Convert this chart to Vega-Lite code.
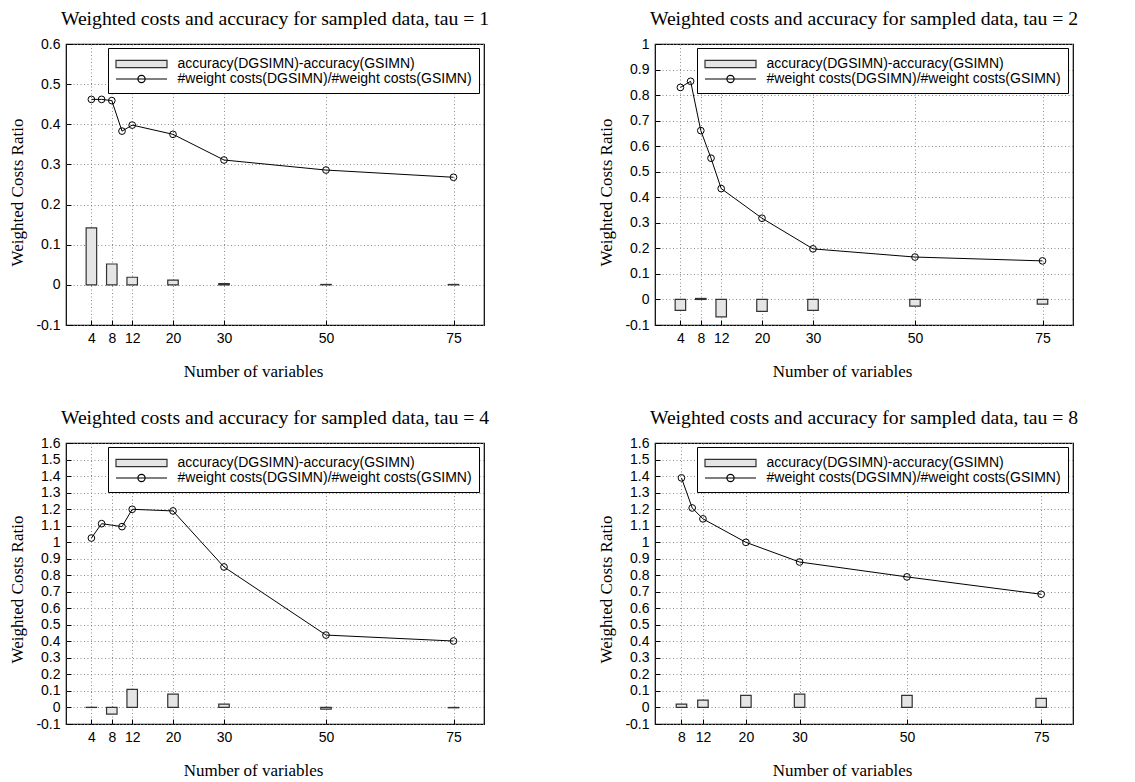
{
  "$schema": "https://vega.github.io/schema/vega-lite/v6.json",
  "background": "white",
  "padding": {"left": 8, "top": 8, "right": 5, "bottom": 5},
  "columns": 2,
  "spacing": {"column": 171, "row": 118},
  "bounds": "flush",
  "resolve": {"scale": {"color": "independent"}, "legend": {"color": "independent"}},
  "config": {
    "view": {"stroke": "black", "strokeWidth": 1.2},
    "title": {"font": "Liberation Serif", "fontSize": 19.7, "fontWeight": "normal", "color": "black", "offset": 8},
    "axis": {
      "labelFont": "Liberation Sans", "labelFontSize": 14, "labelColor": "black",
      "titleFont": "Liberation Serif", "titleFontSize": 17, "titleFontWeight": "normal", "titleColor": "black",
      "tickColor": "black", "tickSize": -5, "tickWidth": 1, "labelPadding": 11,
      "domain": false, "grid": true, "gridColor": "#808080", "gridDash": [1, 2.5], "gridWidth": 0.9
    },
    "axisX": {"titlePadding": 18},
    "axisY": {"titlePadding": 9},
    "legend": {
      "orient": "none", "legendX": 42, "fillColor": "white", "strokeColor": "black",
      "padding": 7, "symbolSize": 196, "symbolOffset": 18.5, "symbolStrokeWidth": 1.2, "labelFont": "Liberation Sans", "labelFontSize": 14,
      "labelColor": "black", "labelOffset": 28, "labelLimit": 500
    }
  },
  "concat": [
    {
      "title": "Weighted costs and accuracy for sampled data, tau = 1",
      "width": 418, "height": 281,
      "resolve": {"axis": {"x": "independent", "y": "independent"}, "scale": {"color": "independent"}, "legend": {"color": "independent"}},
      "layer": [
        {
          "data": {"values": [
            {"n": 4, "diff": 0.142}, {"n": 8, "diff": 0.052}, {"n": 12, "diff": 0.019}, {"n": 20, "diff": 0.012},
            {"n": 30, "diff": 0.003}, {"n": 50, "diff": 0.001}, {"n": 75, "diff": 0.001}
          ]},
          "mark": {"type": "bar", "size": 10.5, "stroke": "#333333", "strokeWidth": 1.2},
          "encoding": {
            "x": {"field": "n", "type": "quantitative", "scale": {"domain": [0, 80], "nice": false, "zero": false},
                  "axis": {"values": [4, 8, 12, 20, 30, 50, 75], "title": "Number of variables", "titleX": 187}},
            "y": {"field": "diff", "type": "quantitative", "scale": {"domain": [-0.1, 0.6], "nice": false},
                  "axis": {"values": [-0.1, 0, 0.1, 0.2, 0.3, 0.4, 0.5, 0.6], "title": "Weighted Costs Ratio", "titleY": 148,
                           "labelExpr": "datum.value < 0 ? '-' + format(-datum.value, '.1~f') : format(datum.value, '.1~f')"}},
            "color": {"datum": "accuracy(DGSIMN)-accuracy(GSIMN)", "type": "nominal",
                      "scale": {"domain": ["accuracy(DGSIMN)-accuracy(GSIMN)"], "range": ["#e5e5e5"]},
                      "legend": {"title": null, "legendY": 5, "fillColor": "transparent", "strokeColor": "transparent", "zindex": 2,
                                 "symbolType": "M-3.643,-0.521H3.643V0.521H-3.643Z", "symbolStrokeColor": "#333333"}}
          }
        },
        {
          "data": {"values": [
            {"n": 4, "ratio": 0.462}, {"n": 6, "ratio": 0.462}, {"n": 8, "ratio": 0.459}, {"n": 10, "ratio": 0.383},
            {"n": 12, "ratio": 0.398}, {"n": 20, "ratio": 0.375}, {"n": 30, "ratio": 0.311}, {"n": 50, "ratio": 0.286}, {"n": 75, "ratio": 0.268}
          ]},
          "layer": [
            {"mark": {"type": "line", "strokeWidth": 1},
             "encoding": {
               "x": {"field": "n", "type": "quantitative", "axis": null},
               "y": {"field": "ratio", "type": "quantitative", "axis": null},
               "color": {"datum": "#weight costs(DGSIMN)/#weight costs(GSIMN)", "type": "nominal",
                         "scale": {"domain": ["#weight costs(DGSIMN)/#weight costs(GSIMN)"], "range": ["#000000"]},
                         "legend": {"title": " ", "titleFontSize": 14, "titlePadding": 2, "legendY": 4, "zindex": 1,
                                    "symbolType": "M-3.643,0H3.643M-0.514,0A0.514,0.514,0,1,1,0.514,0A0.514,0.514,0,1,1,-0.514,0Z",
                                    "symbolFillColor": "transparent", "symbolStrokeColor": "#000000"}}
             }},
            {"mark": {"type": "point", "filled": false, "size": 45, "strokeWidth": 1, "opacity": 1},
             "encoding": {
               "x": {"field": "n", "type": "quantitative", "axis": {"orient": "top", "labels": false, "grid": false, "title": null, "values": [4, 8, 12, 20, 30, 50, 75]}},
               "y": {"field": "ratio", "type": "quantitative", "axis": {"orient": "right", "labels": false, "grid": false, "title": null, "values": [-0.1, 0, 0.1, 0.2, 0.3, 0.4, 0.5, 0.6]}},
               "color": {"datum": "#weight costs(DGSIMN)/#weight costs(GSIMN)", "type": "nominal", "legend": null}
             }}
          ]
        }
      ]
    },
    {
      "title": "Weighted costs and accuracy for sampled data, tau = 2",
      "width": 418, "height": 281,
      "resolve": {"axis": {"x": "independent", "y": "independent"}, "scale": {"color": "independent"}, "legend": {"color": "independent"}},
      "layer": [
        {
          "data": {"values": [
            {"n": 4, "diff": -0.043}, {"n": 8, "diff": 0.004}, {"n": 12, "diff": -0.068}, {"n": 20, "diff": -0.047},
            {"n": 30, "diff": -0.043}, {"n": 50, "diff": -0.026}, {"n": 75, "diff": -0.018}
          ]},
          "mark": {"type": "bar", "size": 10.5, "stroke": "#333333", "strokeWidth": 1.2},
          "encoding": {
            "x": {"field": "n", "type": "quantitative", "scale": {"domain": [0, 80], "nice": false, "zero": false},
                  "axis": {"values": [4, 8, 12, 20, 30, 50, 75], "title": "Number of variables", "titleX": 187}},
            "y": {"field": "diff", "type": "quantitative", "scale": {"domain": [-0.1, 1], "nice": false},
                  "axis": {"values": [-0.1, 0, 0.1, 0.2, 0.3, 0.4, 0.5, 0.6, 0.7, 0.8, 0.9, 1], "title": "Weighted Costs Ratio", "titleY": 148,
                           "labelExpr": "datum.value < 0 ? '-' + format(-datum.value, '.1~f') : format(datum.value, '.1~f')"}},
            "color": {"datum": "accuracy(DGSIMN)-accuracy(GSIMN)", "type": "nominal",
                      "scale": {"domain": ["accuracy(DGSIMN)-accuracy(GSIMN)"], "range": ["#e5e5e5"]},
                      "legend": {"title": null, "legendY": 5, "fillColor": "transparent", "strokeColor": "transparent", "zindex": 2,
                                 "symbolType": "M-3.643,-0.521H3.643V0.521H-3.643Z", "symbolStrokeColor": "#333333"}}
          }
        },
        {
          "data": {"values": [
            {"n": 4, "ratio": 0.830}, {"n": 6, "ratio": 0.854}, {"n": 8, "ratio": 0.661}, {"n": 10, "ratio": 0.553},
            {"n": 12, "ratio": 0.434}, {"n": 20, "ratio": 0.318}, {"n": 30, "ratio": 0.198}, {"n": 50, "ratio": 0.166}, {"n": 75, "ratio": 0.151}
          ]},
          "layer": [
            {"mark": {"type": "line", "strokeWidth": 1},
             "encoding": {
               "x": {"field": "n", "type": "quantitative", "axis": null},
               "y": {"field": "ratio", "type": "quantitative", "axis": null},
               "color": {"datum": "#weight costs(DGSIMN)/#weight costs(GSIMN)", "type": "nominal",
                         "scale": {"domain": ["#weight costs(DGSIMN)/#weight costs(GSIMN)"], "range": ["#000000"]},
                         "legend": {"title": " ", "titleFontSize": 14, "titlePadding": 2, "legendY": 4, "zindex": 1,
                                    "symbolType": "M-3.643,0H3.643M-0.514,0A0.514,0.514,0,1,1,0.514,0A0.514,0.514,0,1,1,-0.514,0Z",
                                    "symbolFillColor": "transparent", "symbolStrokeColor": "#000000"}}
             }},
            {"mark": {"type": "point", "filled": false, "size": 45, "strokeWidth": 1, "opacity": 1},
             "encoding": {
               "x": {"field": "n", "type": "quantitative", "axis": {"orient": "top", "labels": false, "grid": false, "title": null, "values": [4, 8, 12, 20, 30, 50, 75]}},
               "y": {"field": "ratio", "type": "quantitative", "axis": {"orient": "right", "labels": false, "grid": false, "title": null, "values": [-0.1, 0, 0.1, 0.2, 0.3, 0.4, 0.5, 0.6, 0.7, 0.8, 0.9, 1]}},
               "color": {"datum": "#weight costs(DGSIMN)/#weight costs(GSIMN)", "type": "nominal", "legend": null}
             }}
          ]
        }
      ]
    },
    {
      "title": "Weighted costs and accuracy for sampled data, tau = 4",
      "width": 418, "height": 281,
      "resolve": {"axis": {"x": "independent", "y": "independent"}, "scale": {"color": "independent"}, "legend": {"color": "independent"}},
      "layer": [
        {
          "data": {"values": [
            {"n": 4, "diff": 0.001}, {"n": 8, "diff": -0.040}, {"n": 12, "diff": 0.109}, {"n": 20, "diff": 0.081},
            {"n": 30, "diff": 0.020}, {"n": 50, "diff": -0.010}, {"n": 75, "diff": -0.002}
          ]},
          "mark": {"type": "bar", "size": 10.5, "stroke": "#333333", "strokeWidth": 1.2},
          "encoding": {
            "x": {"field": "n", "type": "quantitative", "scale": {"domain": [0, 80], "nice": false, "zero": false},
                  "axis": {"values": [4, 8, 12, 20, 30, 50, 75], "title": "Number of variables", "titleX": 187}},
            "y": {"field": "diff", "type": "quantitative", "scale": {"domain": [-0.1, 1.6], "nice": false},
                  "axis": {"values": [-0.1, 0, 0.1, 0.2, 0.3, 0.4, 0.5, 0.6, 0.7, 0.8, 0.9, 1, 1.1, 1.2, 1.3, 1.4, 1.5, 1.6], "title": "Weighted Costs Ratio", "titleY": 146,
                           "labelExpr": "datum.value < 0 ? '-' + format(-datum.value, '.1~f') : format(datum.value, '.1~f')"}},
            "color": {"datum": "accuracy(DGSIMN)-accuracy(GSIMN)", "type": "nominal",
                      "scale": {"domain": ["accuracy(DGSIMN)-accuracy(GSIMN)"], "range": ["#e5e5e5"]},
                      "legend": {"title": null, "legendY": 5, "fillColor": "transparent", "strokeColor": "transparent", "zindex": 2,
                                 "symbolType": "M-3.643,-0.521H3.643V0.521H-3.643Z", "symbolStrokeColor": "#333333"}}
          }
        },
        {
          "data": {"values": [
            {"n": 4, "ratio": 1.025}, {"n": 6, "ratio": 1.112}, {"n": 10, "ratio": 1.094}, {"n": 12, "ratio": 1.199},
            {"n": 20, "ratio": 1.189}, {"n": 30, "ratio": 0.850}, {"n": 50, "ratio": 0.438}, {"n": 75, "ratio": 0.402}
          ]},
          "layer": [
            {"mark": {"type": "line", "strokeWidth": 1},
             "encoding": {
               "x": {"field": "n", "type": "quantitative", "axis": null},
               "y": {"field": "ratio", "type": "quantitative", "axis": null},
               "color": {"datum": "#weight costs(DGSIMN)/#weight costs(GSIMN)", "type": "nominal",
                         "scale": {"domain": ["#weight costs(DGSIMN)/#weight costs(GSIMN)"], "range": ["#000000"]},
                         "legend": {"title": " ", "titleFontSize": 14, "titlePadding": 2, "legendY": 4, "zindex": 1,
                                    "symbolType": "M-3.643,0H3.643M-0.514,0A0.514,0.514,0,1,1,0.514,0A0.514,0.514,0,1,1,-0.514,0Z",
                                    "symbolFillColor": "transparent", "symbolStrokeColor": "#000000"}}
             }},
            {"mark": {"type": "point", "filled": false, "size": 45, "strokeWidth": 1, "opacity": 1},
             "encoding": {
               "x": {"field": "n", "type": "quantitative", "axis": {"orient": "top", "labels": false, "grid": false, "title": null, "values": [4, 8, 12, 20, 30, 50, 75]}},
               "y": {"field": "ratio", "type": "quantitative", "axis": {"orient": "right", "labels": false, "grid": false, "title": null, "values": [-0.1, 0, 0.1, 0.2, 0.3, 0.4, 0.5, 0.6, 0.7, 0.8, 0.9, 1, 1.1, 1.2, 1.3, 1.4, 1.5, 1.6]}},
               "color": {"datum": "#weight costs(DGSIMN)/#weight costs(GSIMN)", "type": "nominal", "legend": null}
             }}
          ]
        }
      ]
    },
    {
      "title": "Weighted costs and accuracy for sampled data, tau = 8",
      "width": 418, "height": 281,
      "resolve": {"axis": {"x": "independent", "y": "independent"}, "scale": {"color": "independent"}, "legend": {"color": "independent"}},
      "layer": [
        {
          "data": {"values": [
            {"n": 8, "diff": 0.020}, {"n": 12, "diff": 0.045}, {"n": 20, "diff": 0.073},
            {"n": 30, "diff": 0.081}, {"n": 50, "diff": 0.073}, {"n": 75, "diff": 0.055}
          ]},
          "mark": {"type": "bar", "size": 10.5, "stroke": "#333333", "strokeWidth": 1.2},
          "encoding": {
            "x": {"field": "n", "type": "quantitative", "scale": {"domain": [4, 80], "nice": false, "zero": false},
                  "axis": {"values": [8, 12, 20, 30, 50, 75], "title": "Number of variables", "titleX": 187}},
            "y": {"field": "diff", "type": "quantitative", "scale": {"domain": [-0.1, 1.6], "nice": false},
                  "axis": {"values": [-0.1, 0, 0.1, 0.2, 0.3, 0.4, 0.5, 0.6, 0.7, 0.8, 0.9, 1, 1.1, 1.2, 1.3, 1.4, 1.5, 1.6], "title": "Weighted Costs Ratio", "titleY": 146,
                           "labelExpr": "datum.value < 0 ? '-' + format(-datum.value, '.1~f') : format(datum.value, '.1~f')"}},
            "color": {"datum": "accuracy(DGSIMN)-accuracy(GSIMN)", "type": "nominal",
                      "scale": {"domain": ["accuracy(DGSIMN)-accuracy(GSIMN)"], "range": ["#e5e5e5"]},
                      "legend": {"title": null, "legendY": 5, "fillColor": "transparent", "strokeColor": "transparent", "zindex": 2,
                                 "symbolType": "M-3.643,-0.521H3.643V0.521H-3.643Z", "symbolStrokeColor": "#333333"}}
          }
        },
        {
          "data": {"values": [
            {"n": 8, "ratio": 1.389}, {"n": 10, "ratio": 1.207}, {"n": 12, "ratio": 1.141}, {"n": 20, "ratio": 0.999},
            {"n": 30, "ratio": 0.880}, {"n": 50, "ratio": 0.790}, {"n": 75, "ratio": 0.685}
          ]},
          "layer": [
            {"mark": {"type": "line", "strokeWidth": 1},
             "encoding": {
               "x": {"field": "n", "type": "quantitative", "axis": null},
               "y": {"field": "ratio", "type": "quantitative", "axis": null},
               "color": {"datum": "#weight costs(DGSIMN)/#weight costs(GSIMN)", "type": "nominal",
                         "scale": {"domain": ["#weight costs(DGSIMN)/#weight costs(GSIMN)"], "range": ["#000000"]},
                         "legend": {"title": " ", "titleFontSize": 14, "titlePadding": 2, "legendY": 4, "zindex": 1,
                                    "symbolType": "M-3.643,0H3.643M-0.514,0A0.514,0.514,0,1,1,0.514,0A0.514,0.514,0,1,1,-0.514,0Z",
                                    "symbolFillColor": "transparent", "symbolStrokeColor": "#000000"}}
             }},
            {"mark": {"type": "point", "filled": false, "size": 45, "strokeWidth": 1, "opacity": 1},
             "encoding": {
               "x": {"field": "n", "type": "quantitative", "axis": {"orient": "top", "labels": false, "grid": false, "title": null, "values": [8, 12, 20, 30, 50, 75]}},
               "y": {"field": "ratio", "type": "quantitative", "axis": {"orient": "right", "labels": false, "grid": false, "title": null, "values": [-0.1, 0, 0.1, 0.2, 0.3, 0.4, 0.5, 0.6, 0.7, 0.8, 0.9, 1, 1.1, 1.2, 1.3, 1.4, 1.5, 1.6]}},
               "color": {"datum": "#weight costs(DGSIMN)/#weight costs(GSIMN)", "type": "nominal", "legend": null}
             }}
          ]
        }
      ]
    }
  ]
}
